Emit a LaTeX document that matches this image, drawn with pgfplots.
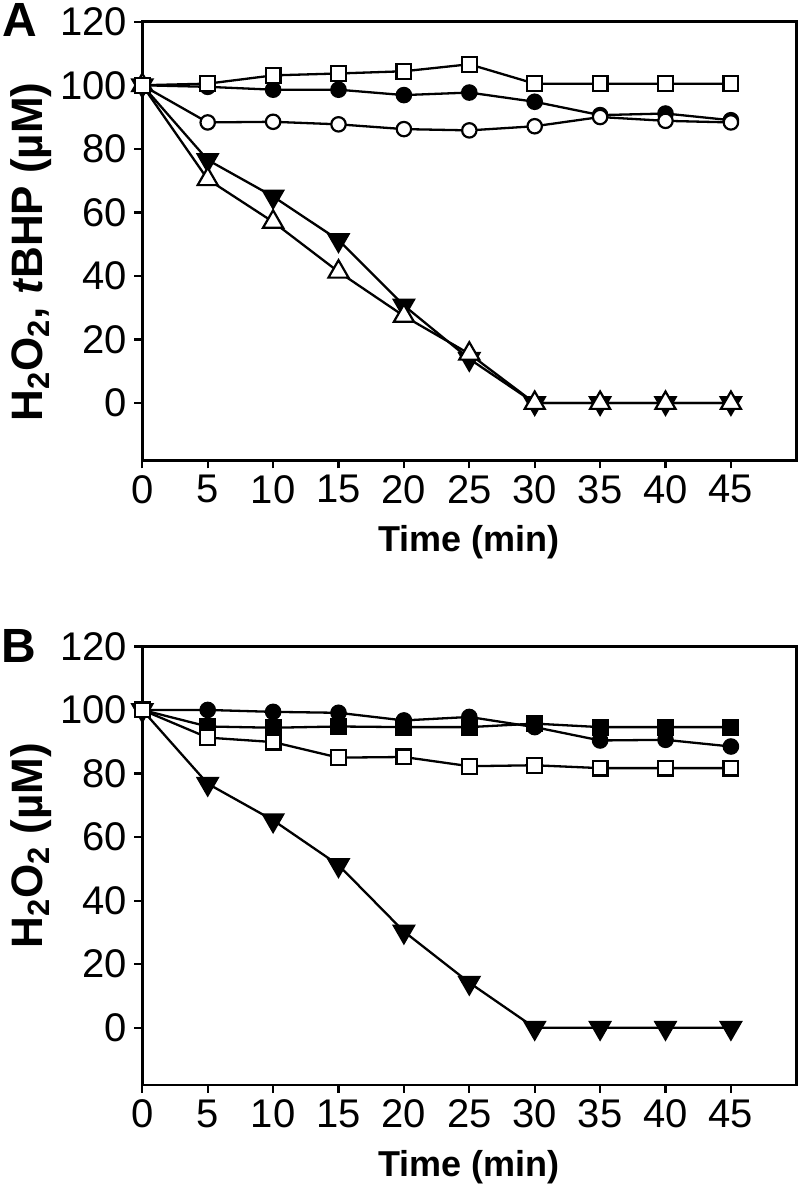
\documentclass[border=0pt]{standalone}
\usepackage{fontspec}
\setmainfont{Liberation Sans}
\usepackage{pgfplots}
\pgfplotsset{compat=1.18}

\pgfplotsset{
  panel/.style={
    scale only axis, width=327pt, height=219.3pt,
    xmin=0, xmax=50, ymin=-18, ymax=120,
    xtick={0,5,...,45}, ytick={0,20,...,120},
    tick align=outside, xtick pos=bottom, ytick pos=left,
    major tick length=4pt, clip=false,
    axis line style={line width=1.25pt},
    tick style={line width=1.15pt, black},
    tick label style={font=\fontsize{20}{21}\selectfont},
    /pgf/number format/assume math mode=true,
    xlabel={Time (min)},
    xlabel style={font=\fontsize{18}{20}\selectfont\bfseries,
                  at={(rel axis cs:0.5,0)}, anchor=center, yshift=-41pt},
  },
  ln/.style={draw=black, line width=1.15pt},
  fcirc/.style={ln, mark=*, mark size=3.6pt, mark options={draw=black, fill=black, line width=1.1pt}},
  ocirc/.style={ln, mark=*, mark size=3.6pt, mark options={draw=black, fill=white, line width=1.1pt}},
  osq/.style={ln, mark=square*, mark size=3.7pt, mark options={draw=black, fill=white, line width=1.1pt}},
  fsq/.style={ln, mark=square*, mark size=3.7pt, mark options={draw=black, fill=black, line width=1.1pt}},
  dtri/.style={ln, mark=triangle*, mark size=5.8pt, mark options={rotate=180, draw=black, fill=black, line width=1.1pt}},
  utri/.style={ln, mark=triangle*, mark size=5.8pt, mark options={draw=black, fill=white, line width=1.1pt}},
}

\begin{document}
\begin{tikzpicture}
\useasboundingbox (0,0) rectangle (400pt,593pt);

% panel A
\begin{axis}[panel, at={(71.15pt,362.85pt)}, anchor=south west]
\addplot[fcirc] coordinates {(0,100) (5,99.5) (10,98.6) (15,98.6) (20,96.9) (25,97.7) (30,94.8) (35,90.6) (40,91.1) (45,89)};
\addplot[ocirc] coordinates {(0,100) (5,88.3) (10,88.5) (15,87.7) (20,86.2) (25,85.8) (30,87.1) (35,90) (40,88.8) (45,88.3)};
\addplot[dtri] coordinates {(0,100) (5,76.5) (10,65) (15,51.3) (20,30.7) (25,13.9) (30,0) (35,0) (40,0) (45,0)};
\addplot[utri] coordinates {(0,100) (5,70.4) (10,57) (15,41.3) (20,27.4) (25,15.5) (30,0) (35,0) (40,0) (45,0)};
\addplot[osq] coordinates {(0,100) (5,100.5) (10,103.1) (15,103.7) (20,104.4) (25,106.6) (30,100.5) (35,100.5) (40,100.5) (45,100.5)};
\end{axis}

% panel B
\begin{axis}[panel, at={(71.15pt,50.5pt)}, anchor=south west]
\addplot[dtri] coordinates {(0,100) (5,76.8) (10,65.3) (15,51.2) (20,30.3) (25,14.2) (30,0) (35,0) (40,0) (45,0)};
\addplot[fcirc] coordinates {(0,100) (5,100) (10,99.4) (15,99.1) (20,96.7) (25,97.8) (30,94.6) (35,90.4) (40,90.6) (45,88.5)};
\addplot[fsq] coordinates {(0,100) (5,94.8) (10,94.4) (15,94.8) (20,94.6) (25,94.6) (30,95.7) (35,94.6) (40,94.6) (45,94.6)};
\addplot[osq] coordinates {(0,100) (5,91.3) (10,89.9) (15,85) (20,85.2) (25,82.3) (30,82.6) (35,81.7) (40,81.7) (45,81.7)};
\end{axis}

\node[font=\fontsize{24}{25}\selectfont\bfseries] at (10pt,583pt) {A};
\node[font=\fontsize{24}{25}\selectfont\bfseries] at (9.5pt,270.25pt) {B};
\node[rotate=90, font=\fontsize{22}{23}\selectfont\bfseries] at (15.5pt,467pt)
  {H\textsubscript{2}O\textsubscript{2}, \textit{t}BHP (µM)};
\node[rotate=90, font=\fontsize{22}{23}\selectfont\bfseries] at (15.5pt,170.2pt)
  {H\textsubscript{2}O\textsubscript{2} (µM)};
\end{tikzpicture}
\end{document}
